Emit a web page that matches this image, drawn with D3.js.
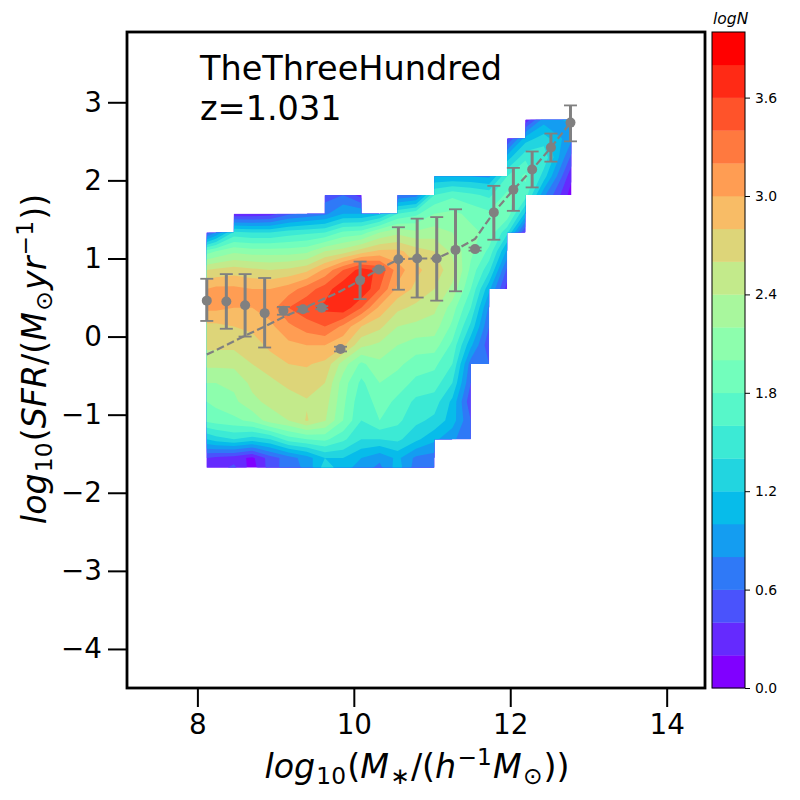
<!DOCTYPE html>
<html>
<head>
<meta charset="utf-8">
<style>
  body { margin: 0; background: #fff; }
  text { font-family: "DejaVu Sans", sans-serif; fill: #000; }
</style>
</head>
<body>
<div id="chart"></div>
<script src="https://cdn.jsdelivr.net/npm/d3@7"></script>
<script>
const _ = null;

// grid nodes of the density map
const massNodes = [8.12, 8.237, 8.467, 8.70, 8.93, 9.165, 9.398, 9.63, 9.863, 10.096, 10.33, 10.56, 10.795, 11.03, 11.26, 11.495, 11.73, 11.96, 12.195, 12.43, 12.78];
const sfrNodes = [2.775, 2.535, 2.294, 2.053, 1.813, 1.572, 1.332, 1.091, 0.851, 0.610, 0.370, 0.129, -0.112, -0.352, -0.593, -0.833, -1.074, -1.315, -1.555, -1.675];

// logN per node, top row first, null where the map is empty
const logN = [
  [_, _, _, _, _, _, _, _, _, _, _, _, _, _, _, _, _, _, 0.25, 0.9, 1.05],
  [_, _, _, _, _, _, _, _, _, _, _, _, _, _, _, _, _, 0.35, 1.1, 1.3, 0.85],
  [_, _, _, _, _, _, _, _, _, _, _, _, _, _, _, _, _, 1.1, 1.55, 1.55, 0.55],
  [_, _, _, _, _, _, _, _, _, _, _, _, _, 1.0, 1.0, 1.0, 0.95, 1.6, 1.85, 1.3, 0.25],
  [_, _, _, _, _, _, _, 0.5, 0.6, 0.3, _, 0.6, 0.7, 1.6, 1.75, 1.65, 1.55, 1.85, 1.7, 0.85, 0.1],
  [_, _, 0.25, 0.25, 0.3, 0.55, 0.65, 0.75, 1.0, 1.0, 1.15, 1.6, 1.75, 2.0, 2.05, 1.95, 1.85, 1.95, 1.15, _, _],
  [0.5, 0.8, 1.45, 1.4, 1.4, 1.5, 1.55, 1.6, 1.85, 1.9, 2.2, 2.35, 2.25, 2.3, 2.2, 2.05, 1.95, 1.45, 0.35, _, _],
  [1.9, 2.0, 2.15, 2.1, 2.1, 2.1, 2.15, 2.4, 2.5, 2.7, 2.85, 2.85, 2.7, 2.6, 2.35, 2.05, 1.75, 0.95, _, _, _],
  [2.6, 2.65, 2.7, 2.65, 2.6, 2.65, 2.75, 3.05, 3.4, 3.7, 3.55, 3.1, 2.85, 2.7, 2.5, 1.95, 1.45, 0.55, _, _, _],
  [3.0, 3.05, 3.05, 3.0, 3.0, 3.1, 3.3, 3.5, 3.75, 3.8, 3.4, 2.95, 2.75, 2.6, 2.35, 1.8, 1.05, 0.3, _, _, _],
  [3.05, 3.05, 3.0, 3.0, 3.1, 3.4, 3.55, 3.65, 3.75, 3.4, 2.95, 2.65, 2.55, 2.45, 2.1, 1.6, 0.75, _, _, _, _],
  [2.75, 2.75, 2.8, 2.85, 2.95, 3.15, 3.3, 3.4, 3.15, 2.8, 2.65, 2.4, 2.35, 2.3, 1.95, 1.35, 0.6, _, _, _, _],
  [2.65, 2.65, 2.65, 2.7, 2.85, 2.95, 3.0, 3.0, 2.85, 2.45, 2.35, 2.2, 2.1, 2.1, 1.75, 1.05, 0.45, _, _, _, _],
  [2.45, 2.45, 2.45, 2.6, 2.7, 2.8, 2.82, 2.75, 2.3, 1.95, 2.15, 2.05, 1.9, 1.85, 1.6, 0.7, 0.6, _, _, _, _],
  [2.2, 2.2, 2.25, 2.45, 2.55, 2.65, 2.7, 2.6, 2.1, 1.75, 2.0, 1.9, 1.75, 1.7, 1.4, 0.6, _, _, _, _, _],
  [2.0, 2.05, 2.15, 2.35, 2.45, 2.5, 2.58, 2.5, 2.05, 1.65, 1.9, 1.75, 1.55, 1.5, 1.15, 0.45, _, _, _, _, _],
  [1.85, 1.9, 1.95, 2.05, 2.3, 2.4, 2.62, 2.42, 2.0, 1.6, 1.8, 1.65, 1.45, 1.35, 1.1, 0.6, _, _, _, _, _],
  [1.2, 1.3, 1.4, 1.3, 1.4, 1.7, 1.8, 1.85, 1.65, 1.4, 1.4, 1.45, 1.25, 1.05, 0.85, 0.6, _, _, _, _, _],
  [0.4, 0.35, 0.3, 0.15, 0.5, 0.7, 0.9, 1.2, 1.2, 1.0, 0.85, 1.05, 0.75, 0.7, _, _, _, _, _, _, _],
  [0.3, 0.3, 0.45, 0.1, 0.5, 0.7, 0.85, 1.3, 1.1, 0.9, 0.75, 1.1, 0.7, 0.7, _, _, _, _, _, _, _]
];

// binned points with error bars
const pointMass = [8.12, 8.37, 8.61, 8.86, 9.10, 9.35, 9.59, 9.83, 10.08, 10.32, 10.57, 10.81, 11.06, 11.30, 11.55, 11.79, 12.04, 12.28, 12.52, 12.77];
const pointSfr = [0.46, 0.45, 0.40, 0.30, 0.33, 0.35, 0.37, -0.16, 0.72, 0.86, 0.99, 1.00, 1.00, 1.11, 1.12, 1.59, 1.88, 2.14, 2.42, 2.74];
const pointUpper = [0.74, 0.80, 0.80, 0.75, 0.38, 0.38, 0.39, -0.13, 0.96, 0.87, 1.40, 1.51, 1.53, 1.63, 1.14, 1.93, 2.16, 2.37, 2.60, 2.96];
const pointLower = [0.20, 0.10, 0.00, -0.14, 0.28, 0.32, 0.35, -0.19, 0.48, 0.85, 0.60, 0.50, 0.46, 0.58, 1.10, 1.24, 1.61, 1.91, 2.24, 2.50];

// dashed line
const lineSfr = [-0.23, -0.11, 0.01, 0.13, 0.25, 0.36, 0.47, 0.58, 0.72, 0.86, 0.99, 1.00, 1.00, 1.11, 1.25, 1.59, 1.88, 2.14, 2.42, 2.74];

const xTicks = [8, 10, 12, 14];
const yTicks = [3, 2, 1, 0, -1, -2, -3, -4];
const levels = d3.range(0, 4.01, 0.2);
const barTicks = [0, 0.6, 1.2, 1.8, 2.4, 3.0, 3.6];

const xLabel = [["log", "i"], ["10", "sub"], ["(", ""], ["M", "i"], ["∗", "sub"], ["/(", ""], ["h", "i"], ["−1", "sup"], ["M", "i"], ["⊙", "sub"], ["))", ""]];
const yLabel = [["log", "i"], ["10", "sub"], ["(", ""], ["SFR", "i"], ["/(", ""], ["M", "i"], ["⊙", "sub"], ["yr", "i"], ["−1", "sup"], ["))", ""]];

const width = 800;
const height = 800;
const marginTop = 32;
const marginBottom = 112;
const marginLeft = 127;
const marginRight = 95;

const x = d3.scaleLinear().domain([7.1, 14.49]).range([marginLeft, width - marginRight]);
const y = d3.scaleLinear().domain([-4.5, 3.9]).range([height - marginBottom, marginTop]);

// same colours as matplotlib's rainbow
function rainbow(t) {
  const r = Math.abs(2 * t - 0.5);
  const g = Math.sin(Math.PI * t);
  const b = Math.cos(Math.PI * t / 2);
  return d3.rgb(255 * Math.min(r, 1), 255 * g, 255 * b).formatRgb();
}
const bandColor = i => rainbow(i / (levels.length - 2));

const svg = d3.select("#chart").append("svg")
    .attr("width", width)
    .attr("height", height)
    .attr("viewBox", [0, 0, width, height])
    .style("display", "block");

// only cells with four filled corners are drawn
let maskPath = "";
for (let r = 0; r < sfrNodes.length - 1; r++) {
  for (let c = 0; c < massNodes.length - 1; c++) {
    if (logN[r][c] === null || logN[r][c + 1] === null || logN[r + 1][c] === null || logN[r + 1][c + 1] === null) continue;
    const x0 = x(massNodes[c]), x1 = x(massNodes[c + 1]), y0 = y(sfrNodes[r]), y1 = y(sfrNodes[r + 1]);
    maskPath += `M${x0},${y0}H${x1}V${y1}H${x0}Z`;
  }
}
svg.append("clipPath").attr("id", "mapClip").append("path").attr("d", maskPath);

// d3.contours puts node i at i + 0.5, the transform maps that to the axes
const nx = massNodes.length;
const ny = sfrNodes.length;
const gridX = d3.scaleLinear().domain(massNodes.map((d, i) => i + 0.5)).range(massNodes.map(d => x(d)));
const gridY = d3.scaleLinear().domain(sfrNodes.map((d, i) => i + 0.5)).range(sfrNodes.map(d => y(d)));
const contourPath = d3.geoPath(d3.geoTransform({
  point(px, py) { this.stream.point(gridX(px), gridY(py)); }
}));

const contours = d3.contours()
    .size([nx, ny])
    .thresholds(levels.slice(0, -1))
    (logN.flat());

svg.append("g")
    .attr("clip-path", "url(#mapClip)")
  .selectAll("path")
  .data(contours)
  .join("path")
    .attr("d", contourPath)
    .attr("fill", (d, i) => bandColor(i));

// dashed line
svg.append("path")
    .attr("fill", "none")
    .attr("stroke", "gray")
    .attr("stroke-width", 2.2)
    .attr("stroke-dasharray", "7.8,3.4")
    .attr("d", d3.line().x((d, i) => x(pointMass[i])).y(d => y(d))(lineSfr));

// error bars and points
const capHalf = 6.5;
const points = svg.append("g").selectAll("g")
  .data(pointMass)
  .join("g")
    .attr("stroke", "gray");
points.append("line")
    .attr("x1", d => x(d)).attr("x2", d => x(d))
    .attr("y1", (d, i) => y(pointUpper[i])).attr("y2", (d, i) => y(pointLower[i]))
    .attr("stroke-width", 3);
points.append("line")
    .attr("x1", d => x(d) - capHalf).attr("x2", d => x(d) + capHalf)
    .attr("y1", (d, i) => y(pointUpper[i])).attr("y2", (d, i) => y(pointUpper[i]))
    .attr("stroke-width", 1.8);
points.append("line")
    .attr("x1", d => x(d) - capHalf).attr("x2", d => x(d) + capHalf)
    .attr("y1", (d, i) => y(pointLower[i])).attr("y2", (d, i) => y(pointLower[i]))
    .attr("stroke-width", 1.8);
points.append("circle")
    .attr("cx", d => x(d))
    .attr("cy", (d, i) => y(pointSfr[i]))
    .attr("r", 5)
    .attr("fill", "gray")
    .attr("stroke", "none");

// frame and axes
svg.append("rect")
    .attr("x", marginLeft).attr("y", marginTop)
    .attr("width", width - marginLeft - marginRight)
    .attr("height", height - marginTop - marginBottom)
    .attr("fill", "none")
    .attr("stroke", "#000")
    .attr("stroke-width", 2.8);

const fmt = d => String(d).replace("-", "−");

svg.append("g")
    .attr("transform", `translate(0,${height - marginBottom})`)
    .call(d3.axisBottom(x).tickValues(xTicks).tickFormat(fmt).tickSize(19).tickPadding(7))
    .call(g => g.select(".domain").remove())
    .call(g => g.selectAll(".tick line").attr("stroke-width", 2))
    .call(g => g.selectAll("text").style("font-size", "27.8px").style("font-family", "DejaVu Sans"));

svg.append("g")
    .attr("transform", `translate(${marginLeft},0)`)
    .call(d3.axisLeft(y).tickValues(yTicks).tickFormat(fmt).tickSize(19).tickPadding(6))
    .call(g => g.select(".domain").remove())
    .call(g => g.selectAll(".tick line").attr("stroke-width", 2))
    .call(g => g.selectAll("text").style("font-size", "27.8px").style("font-family", "DejaVu Sans"));

// math style labels
function mathLabel(sel, parts) {
  let shift = 0;
  let prevSmall = false;
  parts.forEach(([str, kind]) => {
    const small = kind === "sub" || kind === "sup";
    const target = kind === "sub" ? 6 : kind === "sup" ? -13 : 0;
    sel.append("tspan")
        .attr("dx", small || prevSmall ? 1.2 : 0)
        .attr("dy", target - shift)
        .style("font-style", kind === "i" ? "italic" : "normal")
        .style("font-size", small ? "23.3px" : "33.3px")
        .text(str);
    shift = target;
    prevSmall = small;
  });
}

svg.append("text")
    .attr("x", 417).attr("y", 778)
    .attr("text-anchor", "middle")
    .call(mathLabel, xLabel);

svg.append("text")
    .attr("transform", "translate(46,359) rotate(-90)")
    .attr("text-anchor", "middle")
    .call(mathLabel, yLabel);

svg.append("text").attr("x", 200).attr("y", 80).style("font-size", "33.5px").text("TheThreeHundred");
svg.append("text").attr("x", 200).attr("y", 120).style("font-size", "33.5px").text("z=1.031");

// colour bar
const barLeft = 712;
const barRight = 745;
const barY = d3.scaleLinear().domain([0, 4]).range([height - marginBottom, marginTop]);

svg.append("g").selectAll("rect")
  .data(levels.slice(0, -1))
  .join("rect")
    .attr("x", barLeft)
    .attr("width", barRight - barLeft)
    .attr("y", d => barY(d + 0.2))
    .attr("height", d => barY(d) - barY(d + 0.2) + 0.3)
    .attr("fill", (d, i) => bandColor(i));

svg.append("rect")
    .attr("x", barLeft).attr("y", marginTop)
    .attr("width", barRight - barLeft)
    .attr("height", height - marginTop - marginBottom)
    .attr("fill", "none")
    .attr("stroke", "#000")
    .attr("stroke-width", 1);

svg.append("g")
    .attr("transform", `translate(${barRight},0)`)
    .call(d3.axisRight(barY).tickValues(barTicks).tickFormat(d3.format(".1f")).tickSize(5).tickPadding(5))
    .call(g => g.select(".domain").remove())
    .call(g => g.selectAll("text").style("font-size", "13.9px").style("font-family", "DejaVu Sans"));

svg.append("text")
    .attr("x", 713).attr("y", 24)
    .style("font-size", "15.5px")
    .style("font-style", "italic")
    .text("logN");
</script>
</body>
</html>
